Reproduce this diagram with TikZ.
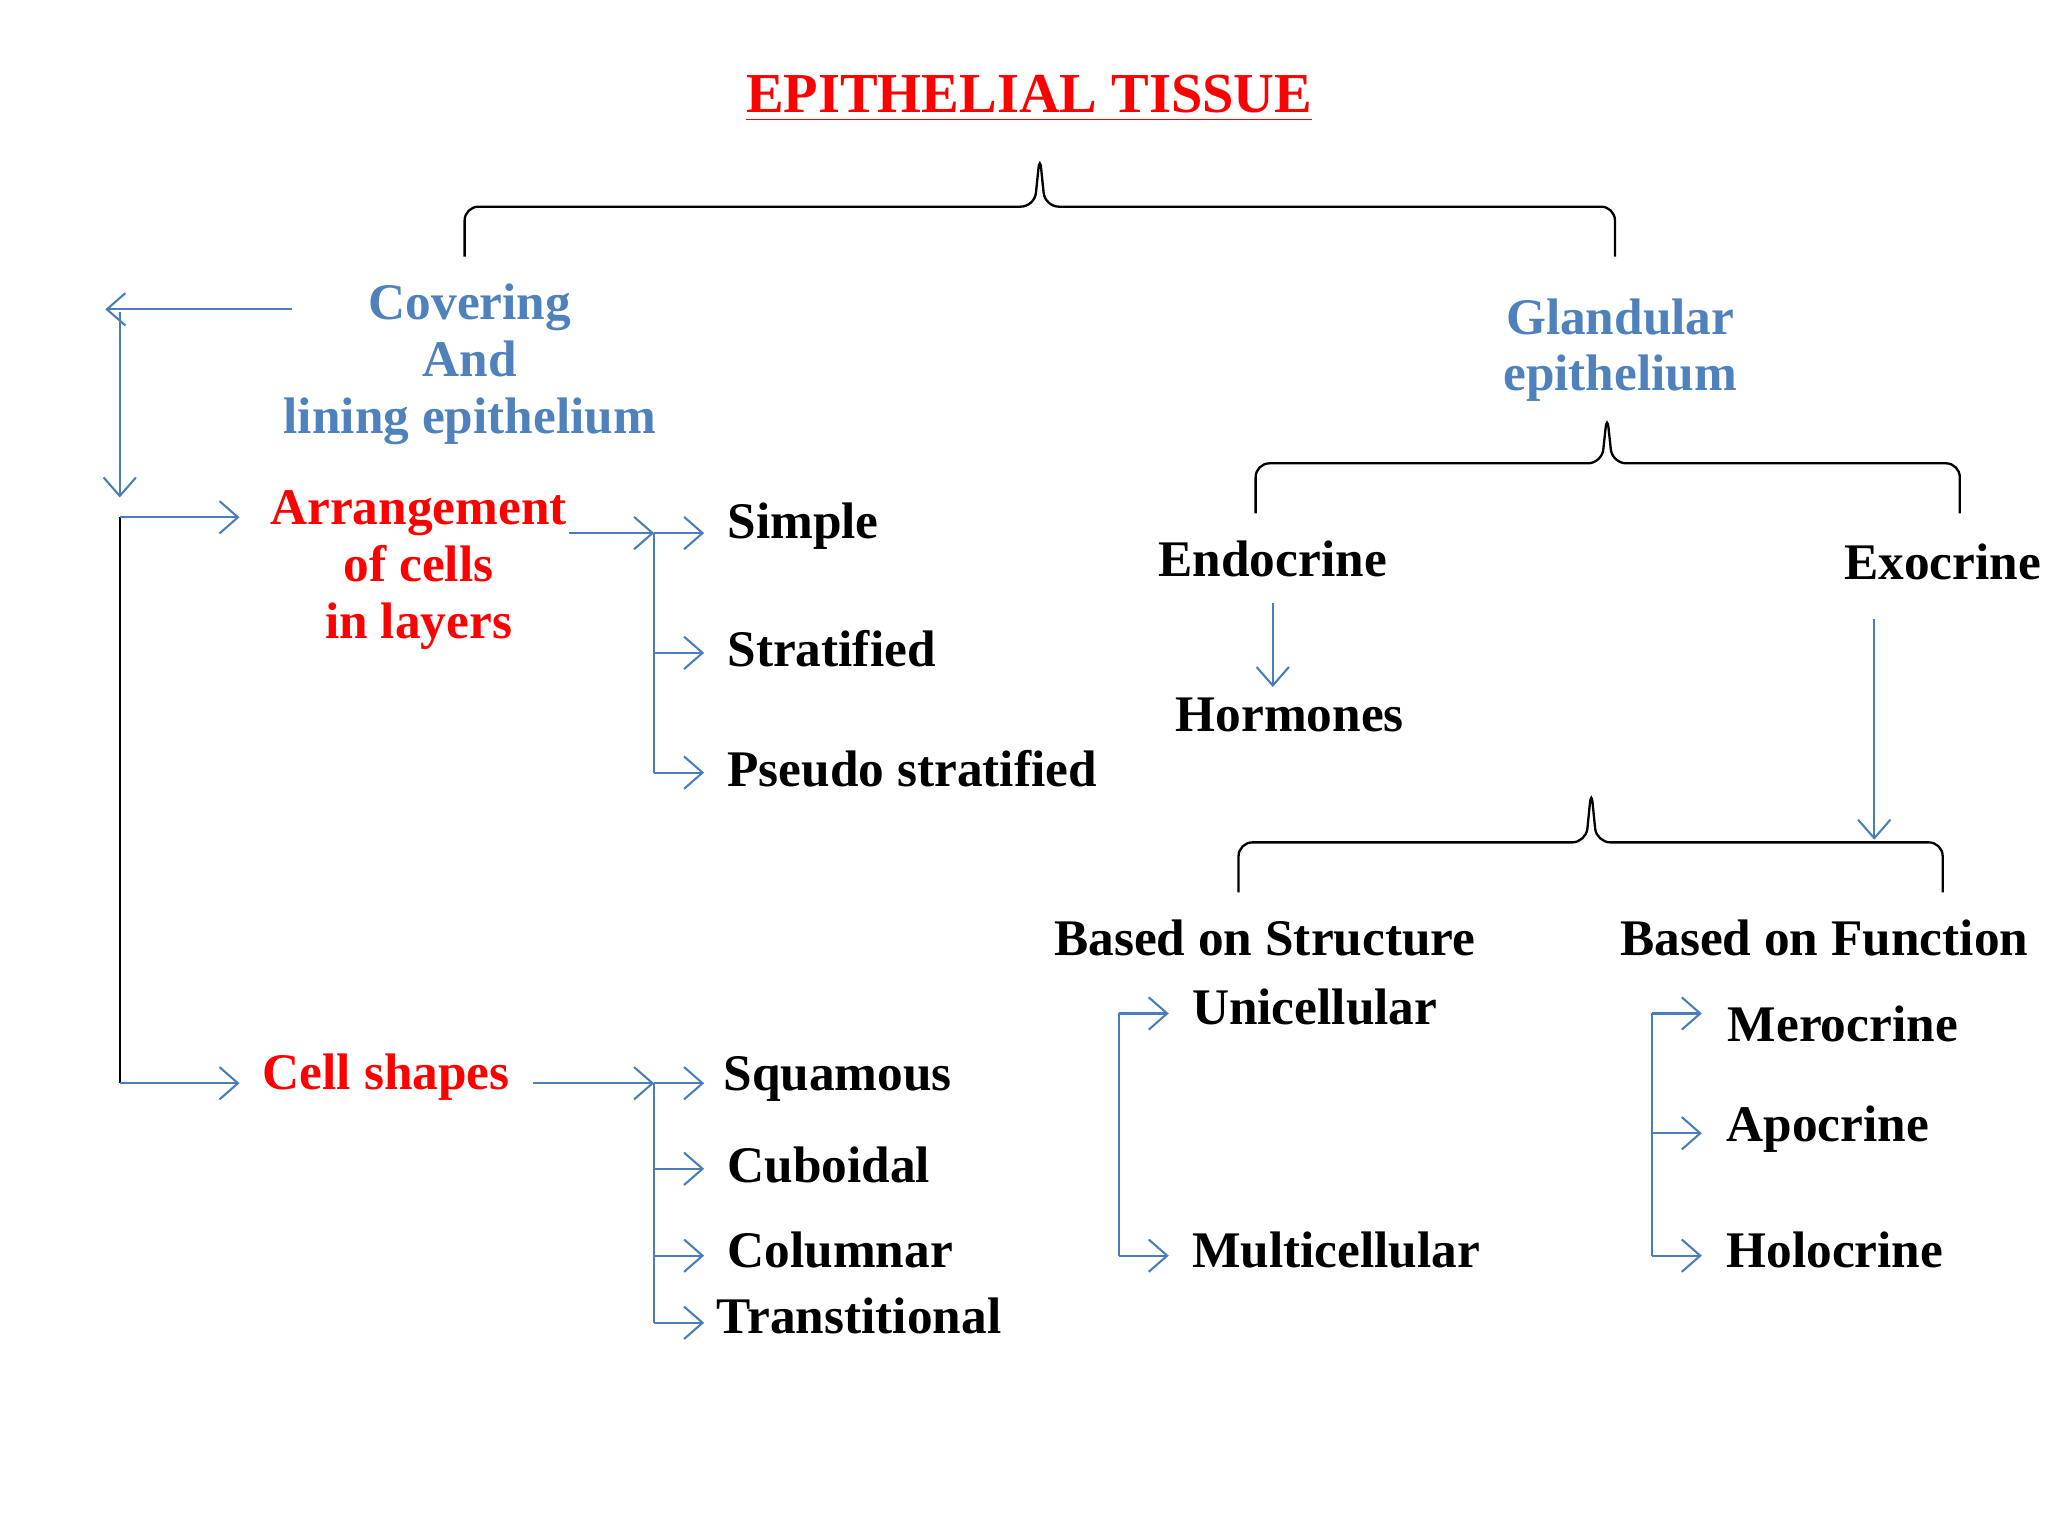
\documentclass[tikz,border=0pt]{standalone}
\usepackage{fontspec}
\setmainfont{Liberation Serif}
\usetikzlibrary{arrows.meta}
\definecolor{tblue}{HTML}{4F81BD}
\definecolor{ablue}{HTML}{4A7EBB}
\definecolor{tred}{HTML}{FF0000}
\begin{document}
\begin{tikzpicture}[x=0.1mm,y=-0.1mm,
  txt/.style={font=\fontsize{11.1}{13.3}\selectfont\bfseries,inner sep=0pt,align=center},
  lt/.style={txt,anchor=west},
  bl/.style={txt,text=tblue},
  rd/.style={txt,text=tred},
  arr/.style={draw=ablue,line width=0.45pt,-{Straight Barb[length=4pt,width=7pt]}},
  ln/.style={draw=ablue,line width=0.45pt},
  brace/.style={draw=black,line width=0.5pt,rounded corners=3pt}]
\useasboundingbox (0,0) rectangle (1556,1167);
% title
\node[txt,text=tred,font=\fontsize{12.2}{14}\selectfont\bfseries] (title) at (782,75) {\underline{EPITHELIAL TISSUE}};
% brace 1
\draw[brace] (353,195) -- (353,157) -- (786,157) -- (790,118) -- (794,157) -- (1227,157) -- (1227,195);
\node[bl] (cov) at (357,277) {Covering\\[-1pt]And\\[-1pt]lining epithelium};
\node[bl] (gland) at (1231,266) {Glandular\\[-1pt]epithelium};
% left blue arrows
\coordinate (c1) at (222,235); \coordinate (c2) at (80,235);
\draw[arr] (c1) -- (c2);
\coordinate (v1) at (91,237); \coordinate (v2) at (91,378);
\draw[arr] (v1) -- (v2);
\coordinate (v3) at (91,393); \coordinate (v4) at (91,823);
\draw[line width=0.5pt] (v3) -- (v4);
\node[rd] (arr1) at (318,433) {Arrangement\\[-1pt]of cells\\[-1pt]in layers};
\node[rd,anchor=west] (cell) at (199,818) {Cell shapes};
\draw[arr] (v3) -- (182,393);
\draw[arr] (v4) -- (182,823);
% arrangement branch
\coordinate (b1) at (497,405); \coordinate (b2) at (497,587);
\draw[arr] (432,405) -- (b1);
\draw[ln] (b1) -- (b2);
\node[lt] (simple) at (552,400) {Simple};
\node[lt] (strat) at (552,493) {Stratified};
\node[lt] (pseudo) at (552,584) {Pseudo stratified};
\draw[arr] (b1) -- (535,405);
\draw[arr] (497,496) -- (535,496);
\draw[arr] (b2) -- (535,587);
% cell shapes branch
\coordinate (d1) at (497,823); \coordinate (d2) at (497,1005);
\draw[arr] (405,823) -- (d1);
\draw[ln] (d1) -- (d2);
\node[lt] (squ) at (549,820) {Squamous};
\node[lt] (cub) at (552,885) {Cuboidal};
\node[lt] (col) at (552,950) {Columnar};
\node[lt] (tra) at (544,1000) {Transtitional};
\draw[arr] (d1) -- (535,823);
\draw[arr] (497,888) -- (535,888);
\draw[arr] (497,954) -- (535,954);
\draw[arr] (d2) -- (535,1005);
% brace 2
\draw[brace] (954,390) -- (954,352) -- (1217,352) -- (1221,315) -- (1225,352) -- (1489,352) -- (1489,390);
\node[txt] (endo) at (967,425) {Endocrine};
\node[txt] (exo) at (1476,427) {Exocrine};
\node[txt] (horm) at (980,543) {Hormones};
\draw[arr] (967,458) -- (967,522);
\draw[arr] (1424,470) -- (1424,638);
% brace 3
\draw[brace] (941,678) -- (941,640) -- (1205,640) -- (1209,600) -- (1213,640) -- (1476,640) -- (1476,678);
\node[txt] (bstr) at (961,713) {Based on Structure};
\node[txt] (bfun) at (1386,713) {Based on Function};
\node[lt] (uni) at (905,765) {Unicellular};
\node[lt] (multi) at (905,950) {Multicellular};
\coordinate (e1) at (850,770); \coordinate (e2) at (850,954);
\draw[ln] (e1) -- (e2);
\draw[arr] (e1) -- (888,770);
\draw[arr] (e2) -- (888,954);
\node[lt] (mero) at (1312,778) {Merocrine};
\node[lt] (apo) at (1311,858) {Apocrine};
\node[lt] (holo) at (1311,950) {Holocrine};
\coordinate (f1) at (1255,770); \coordinate (f2) at (1255,954);
\draw[ln] (f1) -- (f2);
\draw[arr] (f1) -- (1293,770);
\draw[arr] (1255,861) -- (1293,861);
\draw[arr] (f2) -- (1293,954);
\end{tikzpicture}
\end{document}
